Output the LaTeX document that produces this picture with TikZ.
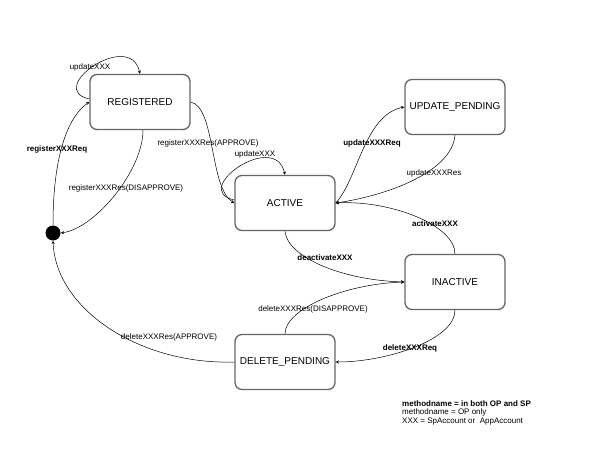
\documentclass[tikz,border=0pt]{standalone}
\usepackage{fontspec}
\setmainfont{Liberation Sans}
\usetikzlibrary{positioning}

\begin{document}
\begin{tikzpicture}[x=1pt,y=-1pt,
  state/.style={rounded corners=7pt, draw=black!60, line width=1.3pt, minimum width=100pt, minimum height=55pt, font=\fontsize{10}{12}\selectfont},
  lbl/.style={inner sep=0pt, font=\fontsize{8}{9.5}\selectfont},
  blbl/.style={lbl, font=\fontsize{8}{9.5}\selectfont\bfseries},
  trans/.style={->,>=stealth,line width=0.5pt}]
\useasboundingbox (0,0) rectangle (600,450);

\node [state] (reg) at (140,102) {REGISTERED};
\node [state] (act) at (285,203) {ACTIVE};
\node [state] (upd) at (455,107) {UPDATE\_PENDING};
\node [state] (ina) at (455,282) {INACTIVE};
\node [state] (del) at (285,362) {DELETE\_PENDING};
\node [circle, fill=black, inner sep=0pt, minimum size=15pt] (dot) at (53,233) {};

% transitions
\draw [trans] ([yshift=3pt] reg.west) .. controls +(-45,-10) and +(-10,-45) .. (reg.north);
\draw [trans] (dot.north) .. controls +(0,-76) and +(-19,13) .. (reg.west);
\draw [trans] ([xshift=3pt] reg.south) .. controls +(0,40) and +(35,-5) .. (dot.east);
\draw [trans] (reg.east) .. controls +(25,5) and +(-25,-15) .. (act.west);
\draw [trans] ([yshift=3pt] act.west) .. controls +(-45,-10) and +(-10,-45) .. (act.north);
\draw [trans] (act.east) .. controls +(22,-23) and +(-40,8) .. (upd.west);
\draw [trans] (upd.south) .. controls +(-3,36) and +(54,-8) .. (act.east);
\draw [trans] (ina.north) .. controls +(0,-29) and +(54,-3) .. (act.east);
\draw [trans] (act.south) .. controls +(2,25) and +(-65,-2) .. (ina.west);
\draw [trans] (del.north) .. controls +(0,-25) and +(-60,2) .. (ina.west);
\draw [trans] (ina.south) .. controls +(0,30) and +(50,0) .. (del.east);
\draw [trans] (del.west) .. controls +(-94,3) and +(3,69) .. (dot.south);

% labels
\node [lbl] (lregupd) at (90,67) {updateXXX};
\node [blbl] (lregreq) at (57,149) {registerXXXReq};
\node [lbl] (lregdis) at (126,188) {registerXXXRes(DISAPPROVE)};
\node [lbl] (lregapp) at (208,143) {registerXXXRes(APPROVE)};
\node [lbl] (lactupd) at (255,154) {updateXXX};
\node [blbl] (lupdreq) at (372,143) {updateXXXReq};
\node [lbl] (lupdres) at (434,173) {updateXXXRes};
\node [blbl] (lactiv) at (435,224) {activateXXX};
\node [blbl] (ldeact) at (325,258) {deactivateXXX};
\node [lbl] (ldeldis) at (313,309) {deleteXXXRes(DISAPPROVE)};
\node [blbl] (ldelreq) at (410,348) {deleteXXXReq};
\node [lbl] (ldelapp) at (169,337) {deleteXXXRes(APPROVE)};

% legend
\node [blbl, anchor=west] (key1) at (402,404) {methodname = in both OP and SP};
\node [lbl, below=1.5pt of key1.south west, anchor=north west] (key2) {methodname = OP only};
\node [lbl, below=1.5pt of key2.south west, anchor=north west] (key3) {XXX = SpAccount or \ AppAccount};
\end{tikzpicture}
\end{document}
